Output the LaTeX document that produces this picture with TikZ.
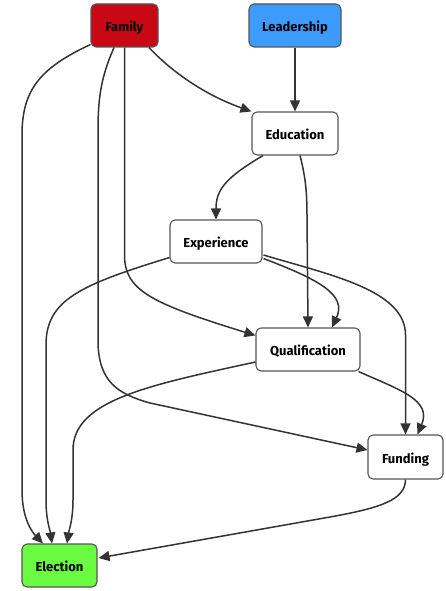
\documentclass[tikz,border=0pt]{standalone}
\usepackage{fontspec}
\setmainfont{Fira Sans}
\usetikzlibrary{arrows.meta,calc}
\definecolor{famred}{HTML}{C80815}
\definecolor{leadblue}{HTML}{3D9BFD}
\definecolor{elecgreen}{HTML}{6BFB43}
\definecolor{edgegray}{HTML}{333333}
\definecolor{bordergray}{HTML}{555555}
\tikzset{
  box/.style={draw=bordergray, line width=1.1pt, rounded corners=5pt, fill=white,
    minimum height=43pt, inner sep=0pt, text height=12pt, text depth=0pt,
    font=\fontsize{13}{15}\selectfont\bfseries, text=black},
  conn/.style={draw=edgegray, line width=1.5pt, -{Triangle[length=11pt,width=10pt]}},
}
\begin{document}
\begin{tikzpicture}[x=1pt,y=1pt]
\useasboundingbox (0,0) rectangle (445,-591);
\node[box, fill=famred, minimum width=67pt] (fam) at (124.5,-25.5) {Family};
\node[box, fill=leadblue, minimum width=92pt] (lead) at (295,-25.5) {Leadership};
\node[box, minimum width=86pt] (edu) at (295,-133.5) {Education};
\node[box, minimum width=92pt] (exp) at (216,-241.5) {Experience};
\node[box, minimum width=104pt] (qual) at (308,-349.5) {Qualification};
\node[box, minimum width=75pt, minimum height=44pt] (fund) at (405.5,-457) {Funding};
\node[box, fill=elecgreen, minimum width=75pt] (elec) at (59.5,-565.5) {Election};

% Family -> Election
\draw[conn] ($(fam.south west)+(0,3)$) .. controls (40,-68) and (22,-90) .. (22,-135) -- (22,-490) .. controls (22,-520) and (33,-533) .. ($(elec.north)+(-16.5,0)$);
% Family -> Funding
\draw[conn] ($(fam.south)+(-10.5,0)$) .. controls (102,-75) and (98,-95) .. (98,-130) -- (98,-340) .. controls (98,-382) and (118,-394) .. (150,-403) -- ($(fund.west)+(0,7)$);
% Family -> Qualification
\draw[conn] (fam.south) -- (124.5,-255) .. controls (124.5,-290) and (150,-303) .. ($(qual.north west)+(0,-8)$);
% Family -> Education
\draw[conn] ($(fam.south)+(24.5,0)$) .. controls (172,-72) and (205,-95) .. (edu.north west);
% Leadership -> Education
\draw[conn] (lead.south) -- (edu.north);
% Education -> Experience
\draw[conn] ($(edu.south)+(-32,0)$) .. controls (225,-178) and (216,-190) .. (exp.north);
% Education -> Qualification
\draw[conn] ($(edu.south)+(5,0)$) .. controls (305,-175) and (307,-190) .. (307,-215) -- (qual.north);
% Experience -> Qualification
\draw[conn] ($(exp.south east)+(1,5)$) .. controls (320,-280) and (347,-295) .. ($(qual.north)+(24,0)$);
% Experience -> Funding
\draw[conn] ($(exp.east)+(1,-13.5)$) .. controls (330,-275) and (405.5,-290) .. (405.5,-335) -- (fund.north);
% Experience -> Election
\draw[conn] ($(exp.south west)+(0,6)$) .. controls (80,-285) and (46,-300) .. (46,-345) -- (46,-500) .. controls (46,-520) and (50,-530) .. ($(elec.north)+(-7.5,0)$);
% Qualification -> Election
\draw[conn] ($(qual.west)+(0,-12.5)$) .. controls (150,-385) and (73,-400) .. (73,-450) -- (73,-500) .. controls (73,-520) and (69,-530) .. ($(elec.north)+(7.5,0)$);
% Qualification -> Funding
\draw[conn] ($(qual.south east)+(-2,0)$) .. controls (400,-390) and (432,-400) .. ($(fund.north)+(12,0)$);
% Funding -> Election
\draw[conn] (fund.south) .. controls (405.5,-500) and (380,-508) .. (330,-517) -- ($(elec.east)+(1,7.5)$);
\end{tikzpicture}
\end{document}
